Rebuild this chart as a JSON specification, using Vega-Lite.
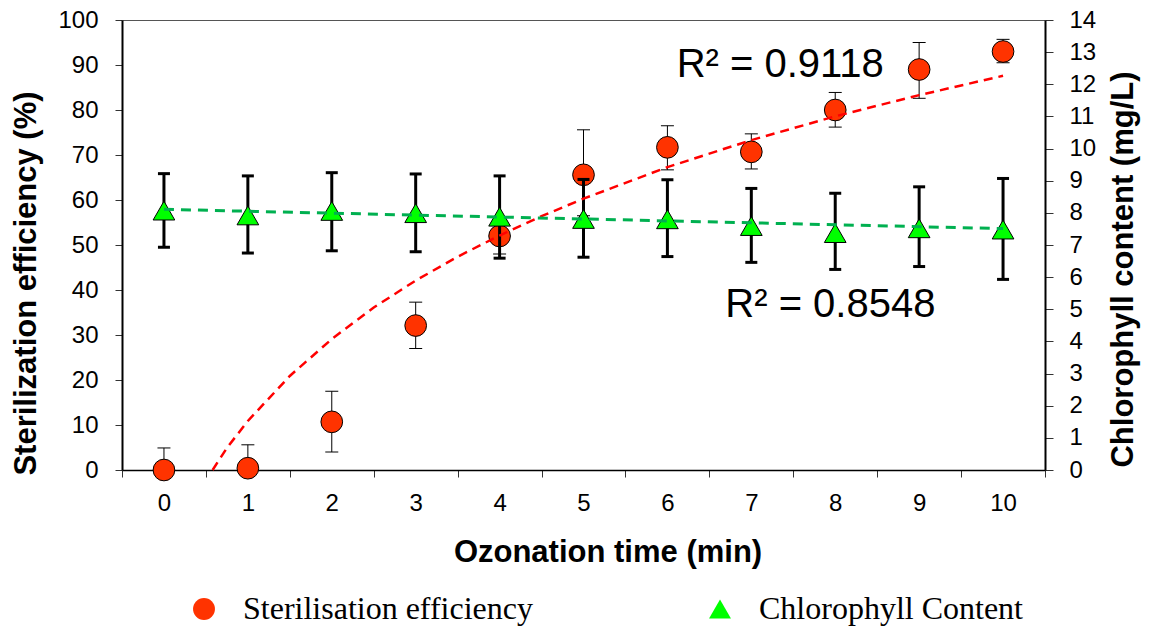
{
  "$schema": "https://vega.github.io/schema/vega-lite/v6.json",
  "width": 923,
  "height": 450,
  "autosize": "none",
  "padding": {"left": 122, "top": 20, "right": 114, "bottom": 157},
  "background": "white",
  "datasets": {
    "eff": [
      {"x": 0, "v": 0, "lo": 0, "hi": 4.9, "series": "Sterilisation efficiency"},
      {"x": 1, "v": 0.4, "lo": 0, "hi": 5.6, "series": "Sterilisation efficiency"},
      {"x": 2, "v": 10.7, "lo": 4.0, "hi": 17.5, "series": "Sterilisation efficiency"},
      {"x": 3, "v": 32.1, "lo": 27.0, "hi": 37.3, "series": "Sterilisation efficiency"},
      {"x": 4, "v": 52.0, "lo": 48.0, "hi": 56.0, "series": "Sterilisation efficiency"},
      {"x": 5, "v": 65.6, "lo": 56.5, "hi": 75.6, "series": "Sterilisation efficiency"},
      {"x": 6, "v": 71.7, "lo": 66.7, "hi": 76.5, "series": "Sterilisation efficiency"},
      {"x": 7, "v": 70.7, "lo": 66.9, "hi": 74.7, "series": "Sterilisation efficiency"},
      {"x": 8, "v": 80.0, "lo": 76.2, "hi": 83.9, "series": "Sterilisation efficiency"},
      {"x": 9, "v": 89.0, "lo": 82.6, "hi": 95.0, "series": "Sterilisation efficiency"},
      {"x": 10, "v": 93.0, "lo": 90.5, "hi": 95.7, "series": "Sterilisation efficiency"}
    ],
    "chl": [
      {"x": 0, "v": 8.07, "lo": 6.93, "hi": 9.22, "series": "Chlorophyll Content"},
      {"x": 1, "v": 7.92, "lo": 6.75, "hi": 9.15, "series": "Chlorophyll Content"},
      {"x": 2, "v": 8.06, "lo": 6.82, "hi": 9.25, "series": "Chlorophyll Content"},
      {"x": 3, "v": 7.99, "lo": 6.79, "hi": 9.21, "series": "Chlorophyll Content"},
      {"x": 4, "v": 7.88, "lo": 6.59, "hi": 9.15, "series": "Chlorophyll Content"},
      {"x": 5, "v": 7.81, "lo": 6.62, "hi": 9.04, "series": "Chlorophyll Content"},
      {"x": 6, "v": 7.80, "lo": 6.64, "hi": 9.03, "series": "Chlorophyll Content"},
      {"x": 7, "v": 7.59, "lo": 6.46, "hi": 8.76, "series": "Chlorophyll Content"},
      {"x": 8, "v": 7.37, "lo": 6.24, "hi": 8.61, "series": "Chlorophyll Content"},
      {"x": 9, "v": 7.52, "lo": 6.33, "hi": 8.81, "series": "Chlorophyll Content"},
      {"x": 10, "v": 7.48, "lo": 5.93, "hi": 9.07, "series": "Chlorophyll Content"}
    ],
    "effTrend": [
      {"x": 0.58, "y": 0},
      {"x": 0.75, "y": 4.9},
      {"x": 1, "y": 10.9},
      {"x": 1.5, "y": 20.9},
      {"x": 2, "y": 29.1},
      {"x": 2.5, "y": 36.1},
      {"x": 3, "y": 42.1},
      {"x": 3.5, "y": 47.4},
      {"x": 4, "y": 52.1},
      {"x": 4.5, "y": 56.4},
      {"x": 5, "y": 60.3},
      {"x": 6, "y": 67.3},
      {"x": 7, "y": 73.3},
      {"x": 8, "y": 78.6},
      {"x": 9, "y": 83.3},
      {"x": 10, "y": 87.6}
    ],
    "chlTrend": [
      {"x": 0, "y": 8.11},
      {"x": 10, "y": 7.51}
    ],
    "notes": [
      {"x": 6.11, "y": 87.4, "label": "R² = 0.9118"},
      {"x": 6.69, "y": 34.1, "label": "R² = 0.8548"}
    ]
  },
  "config": {
    "font": "Liberation Sans",
    "view": {"stroke": "#555555", "strokeWidth": 1},
    "axis": {
      "grid": false,
      "domainColor": "black",
      "tickColor": "#333333",
      "tickWidth": 1,
      "labelColor": "black",
      "labelFont": "Liberation Sans",
      "labelFontSize": 24,
      "titleFont": "Liberation Sans",
      "titleFontSize": 31,
      "titleFontWeight": "bold",
      "titleColor": "black"
    },
    "axisLeft": {
      "domainWidth": 2,
      "tickSize": 7,
      "labelPadding": 17,
      "tickCount": 10,
      "labelBaseline": "middle",
      "titleX": -87,
      "titleY": 263,
      "titleAngle": 270,
      "titleBaseline": "alphabetic",
      "titleAlign": "center"
    },
    "axisRight": {
      "domainWidth": 2,
      "tickSize": 8,
      "labelPadding": 16,
      "tickCount": 14,
      "labelBaseline": "middle",
      "titleX": 87,
      "titleY": 249,
      "titleAngle": 270,
      "titleBaseline": "alphabetic",
      "titleAlign": "center"
    },
    "legend": {
      "orient": "none",
      "legendX": 66,
      "legendY": 573,
      "direction": "horizontal",
      "columnPadding": 171,
      "labelFont": "Liberation Serif",
      "labelFontSize": 32,
      "labelColor": "black",
      "labelLimit": 500,
      "labelOffset": 23,
      "symbolSize": 480,
      "symbolStrokeColor": "black",
      "symbolStrokeWidth": 1,
      "padding": 0
    }
  },
  "encoding": {
    "x": {
      "field": "x",
      "type": "quantitative",
      "title": "Ozonation time (min)",
      "scale": {"domain": [-0.5, 10.5], "nice": false, "zero": false},
      "axis": {
        "values": [-0.5, 0.5, 1.5, 2.5, 3.5, 4.5, 5.5, 6.5, 7.5, 8.5, 9.5, 10.5],
        "labelExpr": "datum.value < 10 ? format(datum.value + 0.5, 'd') : ''",
        "labelOffset": 41.95,
        "labelFlush": false,
        "labelOverlap": false,
        "labelBound": false,
        "tickSize": 7,
        "labelPadding": 33.7,
        "labelBaseline": "alphabetic",
        "domainWidth": 1.5,
        "titleX": 485.5,
        "titleY": 91,
        "titleBaseline": "alphabetic",
        "titleAlign": "center",
        "titleAnchor": "start"
      }
    }
  },
  "layer": [
    {
      "data": {"name": "eff"},
      "layer": [
        {
          "mark": {"type": "rule", "color": "black", "strokeWidth": 1},
          "encoding": {
            "y": {"field": "lo", "type": "quantitative", "title": "Sterilization efficiency (%)", "scale": {"domain": [0, 100], "nice": false}, "axis": {"orient": "left"}},
            "y2": {"field": "hi"}
          }
        },
        {
          "mark": {"type": "tick", "orient": "horizontal", "color": "black", "size": 13, "thickness": 1, "opacity": 1},
          "encoding": {
            "y": {"field": "lo", "type": "quantitative", "title": "Sterilization efficiency (%)", "scale": {"domain": [0, 100], "nice": false}, "axis": {"orient": "left"}}
          }
        },
        {
          "mark": {"type": "tick", "orient": "horizontal", "color": "black", "size": 13, "thickness": 1, "opacity": 1},
          "encoding": {
            "y": {"field": "hi", "type": "quantitative", "title": "Sterilization efficiency (%)", "scale": {"domain": [0, 100], "nice": false}, "axis": {"orient": "left"}}
          }
        },
        {
          "mark": {"type": "point", "filled": true, "stroke": "black", "strokeWidth": 1, "size": 470, "opacity": 1},
          "encoding": {
            "y": {"field": "v", "type": "quantitative", "title": "Sterilization efficiency (%)", "scale": {"domain": [0, 100], "nice": false}, "axis": {"orient": "left"}},
            "fill": {
              "field": "series", "type": "nominal", "title": null,
              "scale": {"domain": ["Sterilisation efficiency", "Chlorophyll Content"], "range": ["#FF3300", "#00FF00"]},
              "legend": {"title": null, "encode": {"symbols": {"update": {"stroke": {"value": "black"}, "strokeWidth": {"value": 1}, "size": {"value": 480}, "opacity": {"value": 1}}}}}
            },
            "shape": {
              "field": "series", "type": "nominal", "title": null,
              "scale": {"domain": ["Sterilisation efficiency", "Chlorophyll Content"], "range": ["circle", "triangle-up"]},
              "legend": {"title": null, "encode": {"symbols": {"update": {"stroke": {"value": "black"}, "strokeWidth": {"value": 1}, "size": {"value": 480}, "opacity": {"value": 1}}}}}
            }
          }
        }
      ]
    },
    {
      "data": {"name": "chl"},
      "layer": [
        {
          "mark": {"type": "rule", "color": "black", "strokeWidth": 3},
          "encoding": {
            "y": {"field": "lo", "type": "quantitative", "title": "Chlorophyll content (mg/L)", "scale": {"domain": [0, 14], "nice": false}, "axis": {"orient": "right"}},
            "y2": {"field": "hi"}
          }
        },
        {
          "mark": {"type": "tick", "orient": "horizontal", "color": "black", "size": 12, "thickness": 3, "opacity": 1},
          "encoding": {
            "y": {"field": "lo", "type": "quantitative", "title": "Chlorophyll content (mg/L)", "scale": {"domain": [0, 14], "nice": false}, "axis": {"orient": "right"}}
          }
        },
        {
          "mark": {"type": "tick", "orient": "horizontal", "color": "black", "size": 12, "thickness": 3, "opacity": 1},
          "encoding": {
            "y": {"field": "hi", "type": "quantitative", "title": "Chlorophyll content (mg/L)", "scale": {"domain": [0, 14], "nice": false}, "axis": {"orient": "right"}}
          }
        },
        {
          "mark": {"type": "point", "filled": true, "stroke": "black", "strokeWidth": 1, "size": 470, "opacity": 1},
          "encoding": {
            "y": {"field": "v", "type": "quantitative", "title": "Chlorophyll content (mg/L)", "scale": {"domain": [0, 14], "nice": false}, "axis": {"orient": "right"}},
            "fill": {
              "field": "series", "type": "nominal", "title": null,
              "scale": {"domain": ["Sterilisation efficiency", "Chlorophyll Content"], "range": ["#FF3300", "#00FF00"]},
              "legend": {"title": null, "encode": {"symbols": {"update": {"stroke": {"value": "black"}, "strokeWidth": {"value": 1}, "size": {"value": 480}, "opacity": {"value": 1}}}}}
            },
            "shape": {
              "field": "series", "type": "nominal", "title": null,
              "scale": {"domain": ["Sterilisation efficiency", "Chlorophyll Content"], "range": ["circle", "triangle-up"]},
              "legend": {"title": null, "encode": {"symbols": {"update": {"stroke": {"value": "black"}, "strokeWidth": {"value": 1}, "size": {"value": 480}, "opacity": {"value": 1}}}}}
            }
          }
        }
      ]
    },
    {
      "data": {"name": "effTrend"},
      "mark": {"type": "line", "color": "#FF0000", "strokeWidth": 2.5, "strokeDash": [9, 6]},
      "encoding": {
        "y": {"field": "y", "type": "quantitative", "scale": {"domain": [0, 100], "nice": false}, "axis": null}
      }
    },
    {
      "data": {"name": "chlTrend"},
      "mark": {"type": "line", "color": "#00B050", "strokeWidth": 3, "strokeDash": [10, 7]},
      "encoding": {
        "y": {"field": "y", "type": "quantitative", "scale": {"domain": [0, 14], "nice": false}, "axis": null}
      }
    },
    {
      "data": {"name": "notes"},
      "mark": {"type": "text", "align": "left", "baseline": "alphabetic", "fontSize": 40, "font": "Liberation Sans", "color": "black"},
      "encoding": {
        "y": {"field": "y", "type": "quantitative", "scale": {"domain": [0, 100], "nice": false}, "axis": null},
        "text": {"field": "label"}
      }
    }
  ],
  "resolve": {"scale": {"y": "independent"}}
}
